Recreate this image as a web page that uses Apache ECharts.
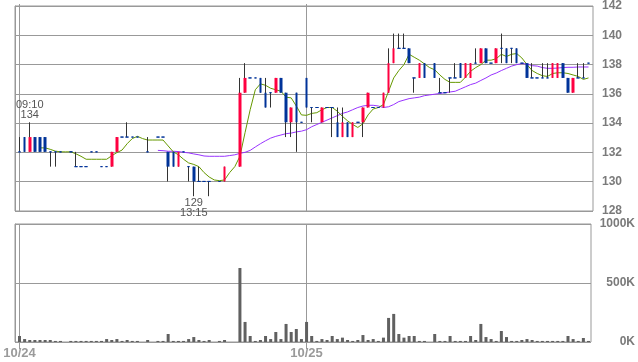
<!DOCTYPE html>
<html><head><meta charset="utf-8">
<script src="https://cdn.jsdelivr.net/npm/echarts@6/dist/echarts.min.js"></script>
<style>html,body{margin:0;padding:0;background:#fff}#c{width:638px;height:362px}</style>
</head><body><div id="c"></div>
<script>
// ---- data ----
const days = ['10/24', '10/25'];
const barsPerDay = 56;
const priceTicks = {min: 128, max: 142, step: 2};
const volumeTicks = {min: 0, max: 1000, step: 500}; // in K

// [open, close, low, high] per 5-min bar, null = no trade
const ohlc = [
 [132,132,132,133],[133,132,132,133],[132,133,132,134],[133,132,132,133],[133,132,132,133],
 [133,132,132,133],[132,132,131,132],[132,132,131,132],[132,132,132,132],null,
 [132,132,132,132],[131,131,131,132],[131,131,131,131],[131,131,131,131],[132,132,132,132],
 [132,132,132,132],[131,131,131,131],[131,131,131,131],[131,132,131,132],[132,133,132,133],
 [133,133,133,133],[133,133,133,134],[133,133,133,133],[133,133,133,133],null,
 [132,132,132,133],null,[133,133,133,133],[133,133,133,133],[132,131,130,132],
 [132,131,131,132],[131,132,131,132],[132,132,132,132],[131,131,130,131],[131,130,129,131],
 [130,130,130,131],[130,130,130,130],[130,130,129,130],null,[130,130,130,130],
 [130,131,130,131],null,null,[131,136,131,137],[136,137,136,138],
 [137,137,137,137],[137,137,137,137],[137,136,136,137],[136,135,135,137],[136,136,135,136],
 [136,137,136,137],[137,136,136,137],[136,134,133,136],[134,135,133,135],[136,134,132,136],
 [134,134,134,134],
 [137,135,135,137],[135,135,134,135],[135,135,135,135],[134,135,134,135],
 [135,135,135,135],[135,135,133,135],[134,133,133,135],[133,134,133,135],[134,133,133,134],
 [133,134,133,134],[134,134,134,134],[134,135,133,135],[135,136,135,136],[135,135,135,135],
 [135,135,135,135],[135,136,135,136],[136,138,136,139],[138,139,138,140],[139,139,139,140],
 [139,139,139,140],[139,138,138,139],[137,137,136,137],[137,138,137,138],[138,137,137,138],
 null,[138,137,137,138],[136,136,136,137],[136,136,136,136],[137,137,136,137],
 [137,137,137,138],[138,137,137,138],[137,138,137,138],[137,138,137,138],[138,138,138,139],
 [138,139,138,139],[139,138,138,139],[138,138,138,138],[138,139,138,139],[139,139,138,140],
 [139,138,138,139],[139,139,138,139],[139,138,138,139],[138,138,138,138],[138,137,137,138],
 [137,137,137,138],[137,137,137,137],[137,137,137,138],[137,137,137,138],[137,138,137,138],
 [137,138,137,138],[138,137,137,138],[137,136,136,137],[136,137,136,137],[137,137,137,138],
 [137,137,137,138],[138,138,138,138]
];

// volume in K shares
const volume = [
 51,25,17,17,17,17,17,9,9,0,
 9,9,9,9,9,9,9,25,17,25,
 9,17,9,9,0,17,0,9,9,68,
 9,9,9,25,42,17,9,17,0,9,
 17,0,0,627,170,51,9,17,51,25,
 85,25,153,85,110,25,
 170,51,9,25,17,51,25,37,17,9,
 17,59,17,25,9,37,204,238,68,37,
 51,51,9,9,0,68,9,9,51,9,
 9,9,51,17,153,42,25,9,93,42,
 9,9,17,25,17,9,9,9,9,9,
 9,51,25,9,34,9
];

// short moving average (green)
const maShort = [
 null,null,null,null,132.27,132.27,132.17,132.05,132.0,132.0,
 132.0,131.87,131.7,131.5,131.5,131.5,131.5,131.5,131.74,131.95,
 132.12,132.55,132.9,133.05,132.9,132.8,132.8,132.8,132.8,132.4,
 132.0,131.8,131.5,131.25,131.15,131.0,130.6,130.3,130.1,130.05,
 130.1,130.6,131.0,131.7,133.3,134.85,136.2,136.6,136.5,136.3,
 136.2,136.1,135.7,135.65,135.1,134.5,
 134.47,134.6,134.65,134.85,135.0,135.0,134.75,134.4,134.1,133.85,
 133.65,133.9,134.5,134.9,135.0,135.2,136.1,137.0,137.5,137.9,
 138.6,138.4,138.2,137.95,137.7,137.55,137.2,136.9,136.7,136.7,
 136.7,137.05,137.45,137.7,137.9,138.2,138.2,138.3,138.6,138.45,
 138.6,138.65,138.35,137.9,137.5,137.3,137.15,137.1,137.3,137.35,
 137.35,137.3,137.2,137.1,136.9,137.0
];

// long moving average (purple)
const maLong = [
 null,null,null,null,null,null,null,null,null,null,
 null,null,null,null,null,null,null,null,null,null,
 null,null,null,null,null,null,null,132.1,132.08,132.04,
 132.04,132.02,131.97,131.93,131.86,131.8,131.72,131.7,131.7,131.7,
 131.7,131.75,131.8,131.9,131.97,132.1,132.33,132.55,132.75,132.93,
 133.05,133.14,133.23,133.27,133.35,133.4,
 133.5,133.7,133.85,134.0,134.15,134.3,134.45,134.6,134.7,134.85,
 135.0,135.1,135.15,135.15,135.1,135.0,135.05,135.2,135.4,135.5,
 135.6,135.65,135.7,135.8,135.85,135.9,135.95,136.0,136.05,136.1,
 136.25,136.4,136.55,136.65,136.83,137.0,137.2,137.33,137.5,137.65,
 137.8,137.9,137.97,137.95,137.83,137.8,137.7,137.65,137.65,137.67,
 137.7,137.72,137.72,137.74,137.74,137.74
];

const annotations = [
 {index: 2, price: 134, text: '09:10\n134', position: 'top'},
 {index: 34, price: 129, text: '129\n13:15', position: 'bottom'}
];

// ---- build ----
const categories = [];
days.forEach(d => { for (let i = 0; i < barsPerDay; i++) categories.push(d + ' ' + i); });
const isDayStart = (idx) => idx % barsPerDay === 0;

const NA = ['-','-','-','-'];
const wickData = ohlc.map(b => {
  if (!b) return NA;
  const mid = (b[0] + b[1]) / 2;
  return [mid, mid, b[2], b[3]];
});
const bodyData = ohlc.map(b => {
  if (!b) return {value: NA};
  const doji = b[0] === b[1];
  return {value: [b[0], b[1], Math.min(b[0], b[1]), Math.max(b[0], b[1])],
          itemStyle: {borderWidth: doji ? 1 : 0}};
});

const GRAY = '#999999';
const RED = '#ff0040', BLUE = '#003399', WICK = '#333333';
const FONT = 'Liberation Sans';

const chart = echarts.init(document.getElementById('c'), null, {renderer: 'canvas'});
chart.setOption({
  animation: false,
  backgroundColor: '#ffffff',
  textStyle: {fontFamily: FONT},
  grid: [
    {left: 15, top: 4, width: 578, height: 207, show: true, borderColor: GRAY, borderWidth: 1},
    {left: 19.5, top: 4, width: 569, height: 207},
    {left: 15, top: 224, width: 578, height: 118, show: true, borderColor: GRAY, borderWidth: 1},
    {left: 19.5, top: 224, width: 569, height: 118}
  ],
  xAxis: [
    {gridIndex: 0, type: 'value', show: false, min: 0, max: 1},
    {gridIndex: 1, type: 'category', data: categories, boundaryGap: false,
     axisLine: {show: false}, axisTick: {show: false}, axisLabel: {show: false},
     splitLine: {show: true, interval: isDayStart, lineStyle: {color: GRAY, width: 1}}},
    {gridIndex: 2, type: 'value', show: false, min: 0, max: 1},
    {gridIndex: 3, type: 'category', data: categories, boundaryGap: false,
     axisLine: {show: false, onZero: false},
     axisTick: {show: true, interval: isDayStart, length: 7, lineStyle: {color: GRAY}},
     axisLabel: {show: true, interval: isDayStart, formatter: v => v.split(' ')[0],
                 color: '#9a9a9a', fontWeight: 'bold', fontSize: 13, margin: 5, fontFamily: FONT},
     splitLine: {show: true, interval: isDayStart, lineStyle: {color: GRAY, width: 1}}}
  ],
  yAxis: [
    {gridIndex: 0, type: 'value', position: 'right', min: priceTicks.min, max: priceTicks.max, interval: priceTicks.step,
     axisLine: {show: true, lineStyle: {color: GRAY}},
     axisTick: {show: true, length: 4, lineStyle: {color: GRAY}},
     axisLabel: {color: '#7a7a7a', fontWeight: 'bold', fontSize: 12, margin: 9, fontFamily: FONT},
     splitLine: {show: true, lineStyle: {color: GRAY, width: 1}}},
    {gridIndex: 1, type: 'value', min: priceTicks.min, max: priceTicks.max, show: false},
    {gridIndex: 2, type: 'value', position: 'right', min: volumeTicks.min, max: volumeTicks.max, interval: volumeTicks.step,
     axisLine: {show: true, lineStyle: {color: GRAY}},
     axisTick: {show: true, length: 6, lineStyle: {color: GRAY}},
     axisLabel: {color: '#7a7a7a', fontWeight: 'bold', fontSize: 12, margin: 44, align: 'right',
                 formatter: v => v + 'K', fontFamily: FONT},
     splitLine: {show: true, lineStyle: {color: GRAY, width: 1}}},
    {gridIndex: 3, type: 'value', min: volumeTicks.min, max: volumeTicks.max, show: false}
  ],
  series: [
    {type: 'line', xAxisIndex: 1, yAxisIndex: 1, data: maLong, showSymbol: false, symbol: 'none',
     lineStyle: {color: '#9933ff', width: 1}, clip: false, z: 2},
    {type: 'line', xAxisIndex: 1, yAxisIndex: 1, data: maShort, showSymbol: false, symbol: 'none',
     lineStyle: {color: '#669900', width: 1}, clip: false, z: 2},
    {type: 'candlestick', xAxisIndex: 1, yAxisIndex: 1, data: wickData, barWidth: 1, clip: false, z: 3,
     itemStyle: {color: WICK, color0: WICK, borderColor: WICK, borderColor0: WICK, borderColorDoji: WICK, borderWidth: 1}},
    {type: 'candlestick', xAxisIndex: 1, yAxisIndex: 1, data: bodyData, barWidth: 3, clip: false, z: 4,
     itemStyle: {color: RED, color0: BLUE, borderColor: RED, borderColor0: BLUE, borderColorDoji: BLUE, borderWidth: 0},
     markPoint: {
       symbol: 'circle', symbolSize: 0, silent: true,
       label: {show: true, formatter: '{b}', color: '#555', fontSize: 11, lineHeight: 10, fontFamily: FONT},
       data: annotations.map(a => ({name: a.text, coord: [a.index, a.price],
              label: {position: a.position, distance: 2}}))
     }},
    {type: 'bar', xAxisIndex: 3, yAxisIndex: 3, data: volume, barWidth: 3, clip: false,
     itemStyle: {color: '#606060'}}
  ]
});
</script></body></html>
